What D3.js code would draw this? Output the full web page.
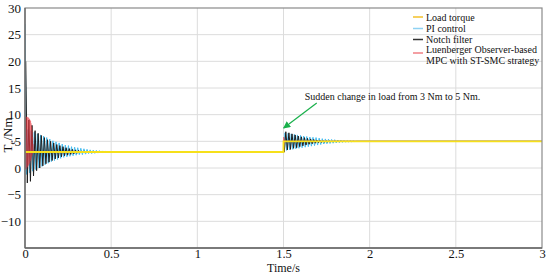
<!DOCTYPE html>
<html><head><meta charset="utf-8">
<script src="https://cdn.jsdelivr.net/npm/d3@7"></script>
<style>body{margin:0;background:#fff}svg{display:block}svg text{font-family:"Liberation Serif","Times New Roman",Times,serif !important}</style>
</head><body><svg id="c" width="550" height="274"></svg>
<script>
// ---- data ----
const xTicks = [0, 0.5, 1, 1.5, 2, 2.5, 3];
const yTicks = [-10, -5, 0, 5, 10, 15, 20, 25, 30];
const loadTime = [0, 1.5, 1.5, 3];
const loadVal = [3, 3, 5, 5];
const halfPeriod = 0.009;            // spacing of successive extremes (s)
// PI control extremes
const piStart1 = 0;
const piPeaks1 = [27, -1.2, 7.2, -0.9, 7.0, -0.6, 6.7, -0.3, 6.4, 0.0, 6.2, 0.3, 6.0, 0.6, 5.7, 0.9, 5.4, 1.2, 5.1, 1.4, 4.9, 1.6, 4.7, 1.8, 4.5, 2.0, 4.3, 2.1, 4.2, 2.2, 4.0, 2.3, 3.9, 2.4, 3.8, 2.5, 3.7, 2.5, 3.6, 2.6, 3.5, 2.7, 3.4, 2.7, 3.35, 2.75, 3.3, 2.8, 3.25, 2.85, 3.2, 2.9, 3.1, 2.95, 3.0];
const piStart2 = 1.5;
const piPeaks2 = [3, 6.6, 3.3, 6.5, 3.4, 6.4, 3.5, 6.3, 3.6, 6.2, 3.7, 6.1, 3.8, 6.0, 3.9, 5.9, 4.0, 5.8, 4.1, 5.75, 4.2, 5.7, 4.3, 5.6, 4.4, 5.5, 4.5, 5.45, 4.55, 5.4, 4.6, 5.35, 4.65, 5.3, 4.7, 5.25, 4.75, 5.2, 4.8, 5.15, 4.85, 5.1, 4.9, 5.08, 4.92, 5.05, 4.95, 5.0];
// Notch filter extremes
const nfStart1 = 0.0045;
const nfPeaks1 = [20, -2.8, 9.0, -2.5, 8.0, -1.5, 7.0, -0.5, 6.5, 0.0, 6.1, 0.4, 5.7, 0.8, 5.3, 1.1, 5.0, 1.4, 4.7, 1.7, 4.4, 1.9, 4.2, 2.1, 4.0, 2.3, 3.8, 2.4, 3.65, 2.55, 3.5, 2.65, 3.4, 2.75, 3.3, 2.8, 3.2, 2.85, 3.15, 2.9, 3.1, 2.95, 3.0];
const nfStart2 = 1.5045;
const nfPeaks2 = [3, 6.8, 3.4, 6.6, 3.5, 6.4, 3.7, 6.2, 3.8, 6.0, 4.0, 5.85, 4.15, 5.7, 4.3, 5.55, 4.45, 5.45, 4.55, 5.35, 4.65, 5.25, 4.75, 5.2, 4.8, 5.15, 4.85, 5.1, 4.9, 5.05, 4.95, 5.0];
// Luenberger Observer-based MPC with ST-SMC
const mpcHalfPeriod = 0.0015;
const mpcStart1 = 0;
const mpcPeaks1 = [3, 9.5, -0.2, 9.6, -0.3, 9.5, 0.0, 9.6, 0.2, 9.5, 0.3, 9.5, 0.4, 9.4, 0.6, 9.3, 0.8, 9.2, 1.0, 9.0, 1.3, 8.8, 1.6, 8.4, 2.0, 7.8, 2.3, 7.0, 2.6, 5.8, 2.8, 4.5, 3.0];
const mpcStart2 = 1.5;
const mpcPeaks2 = [3, 5.8, 4.5, 5.4, 4.8, 5.1, 5.0];
const endTime = 3;

// ---- chart ----
const FONT = "Liberation Serif, Times New Roman, Times, serif";
const svg = d3.select("#c");
const x = d3.scaleLinear().domain([0, 3]).range([25, 542]);
const y = d3.scaleLinear().domain([-15, 30]).range([248, 8]);

function series(segs, hp, endVal) {
  const pts = [];
  segs.forEach(([t0, arr]) => arr.forEach((v, i) => pts.push([t0 + i * hp, v])));
  pts.push([endTime, endVal]);
  return pts;
}
const line = d3.line().x(d => x(d[0])).y(d => y(d[1]));

// grid
svg.append("g").selectAll("line").data(xTicks.slice(1, -1)).join("line")
  .attr("x1", d => x(d)).attr("x2", d => x(d)).attr("y1", y(30)).attr("y2", y(-15))
  .attr("stroke", "#dcdcdc").attr("stroke-width", 1);
svg.append("g").selectAll("line").data(yTicks.filter(v => v < 30)).join("line")
  .attr("x1", x(0)).attr("x2", x(3)).attr("y1", d => y(d)).attr("y2", d => y(d))
  .attr("stroke", "#dcdcdc").attr("stroke-width", 1);

// series
svg.append("clipPath").attr("id", "clp").append("rect")
  .attr("x", x(0)).attr("y", y(30)).attr("width", x(3) - x(0)).attr("height", y(-15) - y(30));
const g = svg.append("g").attr("clip-path", "url(#clp)");
g.append("path").datum(series([[piStart1, piPeaks1], [piStart2, piPeaks2]], halfPeriod, 5))
  .attr("d", line).attr("fill", "none").attr("stroke", "#45bdf0").attr("stroke-width", 1);
g.append("path").datum(series([[nfStart1, nfPeaks1], [nfStart2, nfPeaks2]], halfPeriod, 5))
  .attr("d", line).attr("fill", "none").attr("stroke", "#1e1e1e").attr("stroke-width", 1);
g.append("path").datum(series([[mpcStart1, mpcPeaks1], [mpcStart2, mpcPeaks2]], mpcHalfPeriod, 5))
  .attr("d", line).attr("fill", "none").attr("stroke", "#e8323a").attr("stroke-opacity", 0.65).attr("stroke-width", 1.3);
g.append("path").datum(loadTime.map((t, i) => [t, loadVal[i]]))
  .attr("d", line).attr("fill", "none").attr("stroke", "#f6e01a").attr("stroke-width", 1.8);

// frame
svg.append("rect").attr("x", x(0)).attr("y", y(30)).attr("width", x(3) - x(0)).attr("height", y(-15) - y(30))
  .attr("fill", "none").attr("stroke", "#8a8a8a").attr("stroke-width", 1.2);
svg.append("line").attr("x1", x(0)).attr("x2", x(0)).attr("y1", y(30)).attr("y2", y(-15)).attr("stroke", "#666").attr("stroke-width", 1.3);
svg.append("line").attr("x1", x(0)).attr("x2", x(3)).attr("y1", y(-15)).attr("y2", y(-15)).attr("stroke", "#666").attr("stroke-width", 1.3);

// axes
const xa = svg.append("g").attr("transform", `translate(0,${y(-15)})`)
  .call(d3.axisBottom(x).tickValues(xTicks).tickSize(0).tickPadding(1).tickFormat(d3.format("")));
const ya = svg.append("g").attr("transform", `translate(${x(0)},0)`)
  .call(d3.axisLeft(y).tickValues(yTicks).tickSize(0).tickPadding(4).tickFormat(d => d < 0 ? "\u2212" + Math.abs(d) : d));
[xa, ya].forEach(a => {
  a.attr("font-family", FONT);
  a.select(".domain").remove();
  a.selectAll("text").attr("font-family", FONT).attr("font-size", 13).attr("fill", "#111");
});
xa.selectAll("text").attr("font-size", 12.5);
svg.append("text").attr("x", x(1.5)).attr("y", 272).attr("text-anchor", "middle").attr("font-family", FONT)
  .attr("font-size", 12).attr("fill", "#111").text("Time/s");
const yl = svg.append("text").attr("transform", "translate(12,135) rotate(-90)").attr("text-anchor", "middle")
  .attr("font-family", FONT).attr("font-size", 13).attr("fill", "#111");
yl.append("tspan").text("T");
yl.append("tspan").attr("font-size", 9).attr("dy", 3).text("e");
yl.append("tspan").attr("dy", -3).text("/Nm");

// annotation
const arrowFrom = [1.693, 12.2], arrowTo = [1.501, 7.5], noteAt = [1.623, 12.75];
svg.append("defs").append("marker").attr("id", "ah").attr("viewBox", "0 0 10 10").attr("refX", 9).attr("refY", 5)
  .attr("markerWidth", 6).attr("markerHeight", 6).attr("orient", "auto")
  .append("path").attr("d", "M0,0 L10,5 L0,10 z").attr("fill", "#19b04b");
svg.append("line").attr("x1", x(arrowFrom[0])).attr("y1", y(arrowFrom[1])).attr("x2", x(arrowTo[0])).attr("y2", y(arrowTo[1]))
  .attr("stroke", "#19b04b").attr("stroke-width", 1.2).attr("marker-end", "url(#ah)");
svg.append("text").attr("x", x(noteAt[0])).attr("y", y(noteAt[1])).attr("font-family", FONT).attr("font-size", 10).attr("fill", "#111")
  .text("Sudden change in load from 3 Nm to 5 Nm.");

// legend
const legend = [
  {c: "#f3c12a", ly: 17, t: [[20.5, "Load torque"]]},
  {c: "#8fd2f3", ly: 28.5, t: [[32, "PI control"]]},
  {c: "#333", ly: 39.5, t: [[43, "Notch filter"]]},
  {c: "#f07f84", ly: 53, t: [[52.5, "Luenberger Observer-based"], [63.5, "MPC with ST-SMC strategy"]]}
];
const lg = svg.append("g").attr("font-family", FONT);
legend.forEach(d => {
  lg.append("line").attr("x1", 413).attr("x2", 423).attr("y1", d.ly).attr("y2", d.ly).attr("stroke", d.c).attr("stroke-width", 1.5);
  d.t.forEach(([ty, s]) => lg.append("text").attr("x", 426).attr("y", ty).attr("font-family", FONT).attr("font-size", 10).attr("fill", "#111").text(s));
});
</script></body></html>
